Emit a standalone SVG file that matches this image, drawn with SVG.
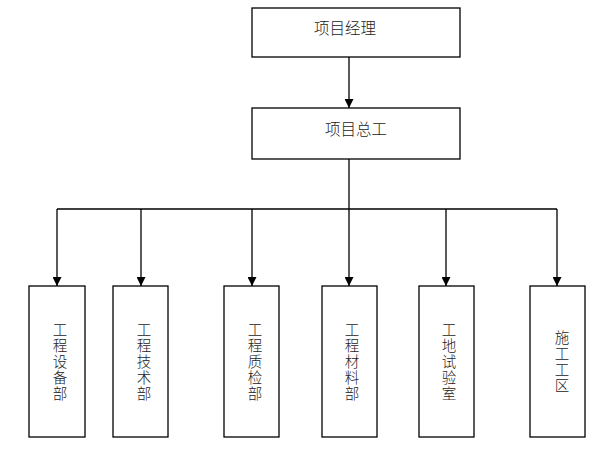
<svg xmlns="http://www.w3.org/2000/svg" width="600" height="450" viewBox="0 0 600 450">
<defs>
<style>
.box{fill:#fff;stroke:#000;stroke-width:1.3}
.t{font-family:"Liberation Serif","Noto Sans CJK SC",serif;font-size:14.5px;font-weight:300;fill:#222;text-anchor:middle}
.ln{fill:none;stroke:#000;stroke-width:1.3}
</style>
<marker id="ah" viewBox="0 0 10 10" refX="10" refY="5" markerWidth="9" markerHeight="9" markerUnits="userSpaceOnUse" orient="auto">
<path d="M0,0 L10,5 L0,10 z" fill="#000"/>
</marker>
</defs>
<rect width="600" height="450" fill="#fff"/>
<g id="connectors">
<path class="ln" d="M349,57 V108" marker-end="url(#ah)"/>
<path class="ln" d="M349,159 V209"/>
<path class="ln" d="M57,209 H557"/>
<path class="ln" d="M57,209 V286" marker-end="url(#ah)"/>
<path class="ln" d="M141,209 V286" marker-end="url(#ah)"/>
<path class="ln" d="M252,209 V286" marker-end="url(#ah)"/>
<path class="ln" d="M349,209 V286" marker-end="url(#ah)"/>
<path class="ln" d="M446,209 V286" marker-end="url(#ah)"/>
<path class="ln" d="M557,209 V286" marker-end="url(#ah)"/>
</g>
<g id="n1"><rect class="box" x="252" y="8" width="208" height="49"/><text class="t" x="345" y="34" style="font-size:15.5px">项目经理</text></g>
<g id="n2"><rect class="box" x="252" y="108" width="208" height="51"/><text class="t" x="356" y="135" style="font-size:15.5px">项目总工</text></g>
<g id="n3"><rect class="box" x="29" y="286" width="56" height="151"/>
<text class="t" x="60" y="335">工</text><text class="t" x="60" y="351">程</text><text class="t" x="60" y="367">设</text><text class="t" x="60" y="383">备</text><text class="t" x="60" y="399">部</text></g>
<g id="n4"><rect class="box" x="113" y="286" width="55" height="151"/>
<text class="t" x="144" y="335">工</text><text class="t" x="144" y="351">程</text><text class="t" x="144" y="367">技</text><text class="t" x="144" y="383">术</text><text class="t" x="144" y="399">部</text></g>
<g id="n5"><rect class="box" x="224" y="286" width="55" height="151"/>
<text class="t" x="255" y="335">工</text><text class="t" x="255" y="351">程</text><text class="t" x="255" y="367">质</text><text class="t" x="255" y="383">检</text><text class="t" x="255" y="399">部</text></g>
<g id="n6"><rect class="box" x="322" y="286" width="55" height="151"/>
<text class="t" x="352" y="335">工</text><text class="t" x="352" y="351">程</text><text class="t" x="352" y="367">材</text><text class="t" x="352" y="383">料</text><text class="t" x="352" y="399">部</text></g>
<g id="n7"><rect class="box" x="419" y="286" width="55" height="151"/>
<text class="t" x="449" y="335">工</text><text class="t" x="449" y="351">地</text><text class="t" x="449" y="367">试</text><text class="t" x="449" y="383">验</text><text class="t" x="449" y="399">室</text></g>
<g id="n8"><rect class="box" x="530" y="286" width="55" height="151"/>
<text class="t" x="562" y="343">施</text><text class="t" x="562" y="359">工</text><text class="t" x="562" y="375">工</text><text class="t" x="562" y="391">区</text></g>
</svg>
